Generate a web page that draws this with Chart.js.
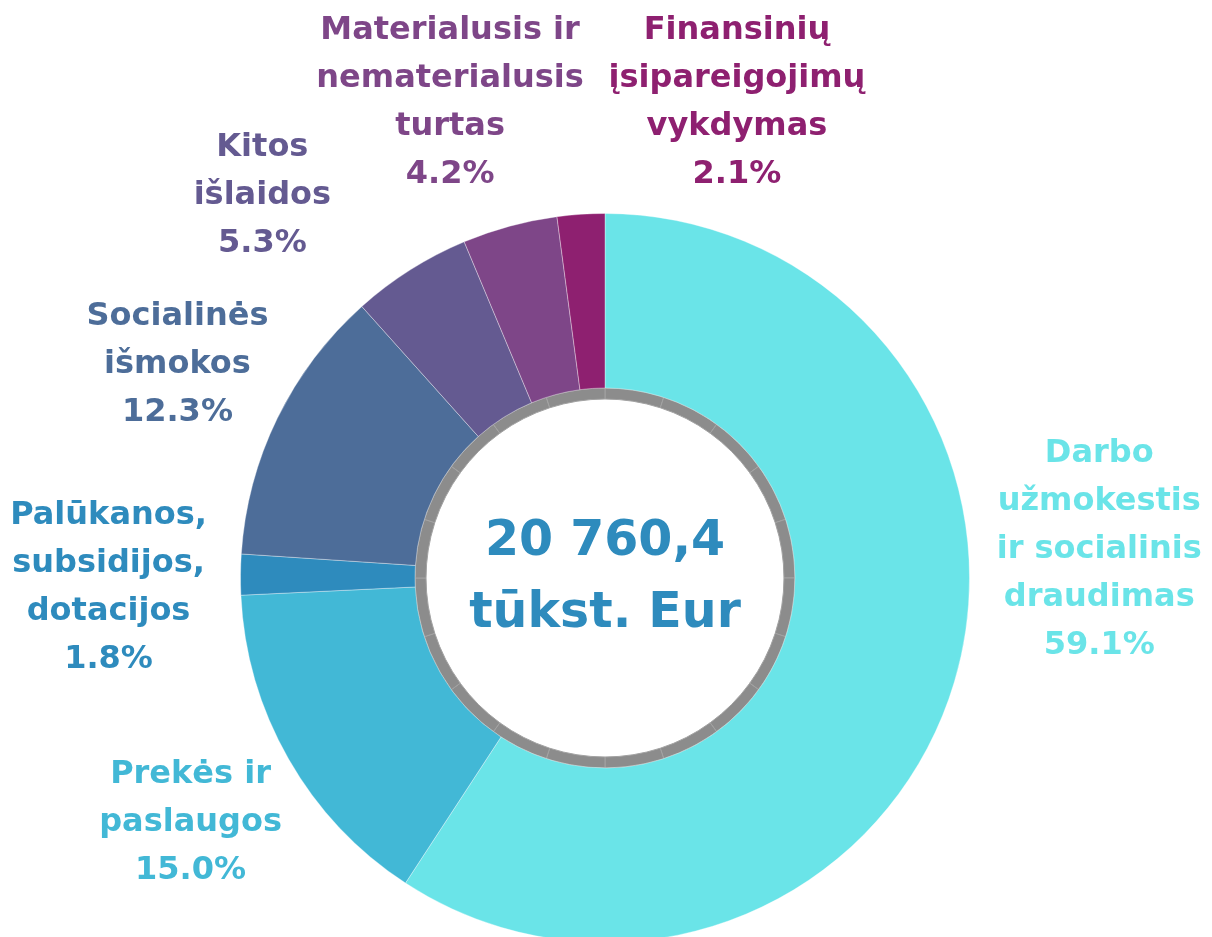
<!DOCTYPE html>
<html>
<head>
<meta charset="utf-8">
<script src="https://cdn.jsdelivr.net/npm/chart.js@4/dist/chart.umd.min.js"></script>
<style>
  html, body { margin: 0; padding: 0; background: #fff; overflow: hidden; }
  canvas { display: block; }
</style>
</head>
<body>
<canvas id="chart" width="1212" height="956"></canvas>
<script>
// Išlaidų struktūra
const categories = [
  ['Darbo', 'užmokestis', 'ir socialinis', 'draudimas'],
  ['Prekės ir', 'paslaugos'],
  ['Palūkanos,', 'subsidijos,', 'dotacijos'],
  ['Socialinės', 'išmokos'],
  ['Kitos', 'išlaidos'],
  ['Materialusis ir', 'nematerialusis', 'turtas'],
  ['Finansinių', 'įsipareigojimų', 'vykdymas']
];
const shares = [59.1, 15.0, 1.8, 12.3, 5.3, 4.2, 2.1];
const shareLabels = ['59.1%', '15.0%', '1.8%', '12.3%', '5.3%', '4.2%', '2.1%'];
const totalLines = ['20 760,4', 'tūkst. Eur'];

const colors = ['#6ae4e8', '#42b8d6', '#2e8bbd', '#4d6d99', '#645a91', '#7e4688', '#8e2070'];
// label block centre, relative to chart centre, in units of the outer radius
const labelSpots = [
  [1.356, -0.079], [-1.137, 0.671], [-1.362, 0.027], [-1.173, -0.586],
  [-0.940, -1.049], [-0.425, -1.305], [0.362, -1.305]
];

// grey ring round the hole, drawn as equal segments
const ringParts = new Array(20).fill(1);

const FONT = '"DejaVu Sans", sans-serif';

const outsideLabels = {
  id: 'outsideLabels',
  afterDraw(chart) {
    const arc = chart.getDatasetMeta(0).data[0];
    const cx = arc.x, cy = arc.y, r = arc.outerRadius;
    const ctx = chart.ctx;
    ctx.save();
    ctx.textAlign = 'center';
    ctx.textBaseline = 'middle';
    ctx.font = 'bold 32px ' + FONT;
    const lh = 48;
    categories.forEach((lines, i) => {
      const all = lines.concat([shareLabels[i]]);
      const x = cx + labelSpots[i][0] * r;
      const y0 = cy + labelSpots[i][1] * r - (all.length - 1) * lh / 2;
      ctx.fillStyle = colors[i];
      all.forEach((t, k) => ctx.fillText(t, x, y0 + k * lh));
    });
    // total in the middle
    ctx.fillStyle = '#2e8bbd';
    ctx.font = 'bold 49px ' + FONT;
    ctx.fillText(totalLines[0], cx, cy - 36);
    ctx.fillText(totalLines[1], cx, cy + 36);
    ctx.restore();
  }
};

new Chart(document.getElementById('chart'), {
  type: 'doughnut',
  data: {
    labels: categories.map(l => l.join(' ')),
    datasets: [{
      data: shares,
      backgroundColor: colors,
      borderColor: 'rgba(255,255,255,0.35)',
      borderWidth: 1,
      weight: 174.5
    }, {
      data: ringParts,
      backgroundColor: '#8c8c8c',
      borderColor: '#a2a2a2',
      borderWidth: 1,
      weight: 11
    }]
  },
  options: {
    responsive: false,
    animation: false,
    cutout: '49.1%',
    events: [],
    layout: { padding: { top: 213, bottom: 13, left: 240, right: 242 } },
    plugins: {
      legend: { display: false },
      tooltip: { enabled: false }
    }
  },
  plugins: [outsideLabels]
});
</script>
</body>
</html>
